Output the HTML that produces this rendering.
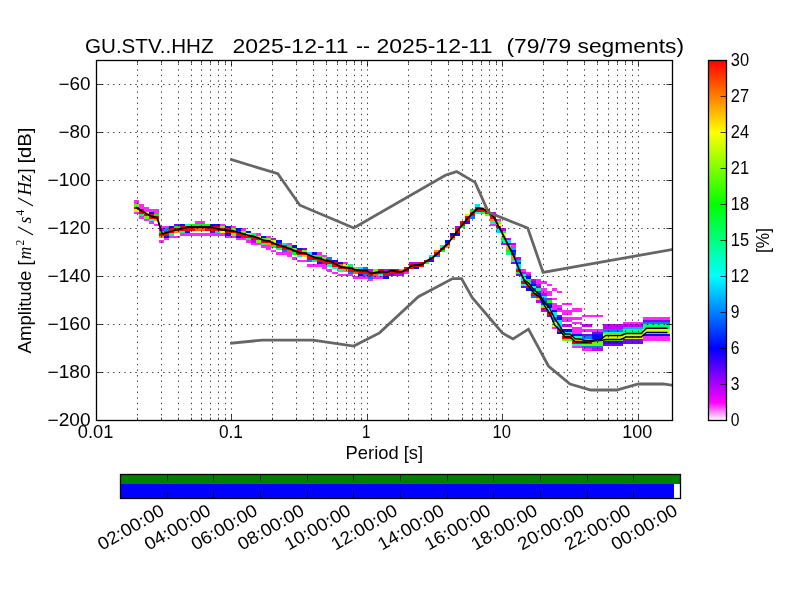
<!DOCTYPE html>
<html><head><meta charset="utf-8"><title>PPSD GU.STV..HHZ</title>
<style>html,body{margin:0;padding:0;background:#fff}svg{display:block;will-change:transform}text{font-family:"Liberation Sans", sans-serif;fill:#000}</style></head>
<body>
<svg width="800" height="600" viewBox="0 0 800 600">
<defs><linearGradient id="cb" x1="0" y1="1" x2="0" y2="0"><stop offset="0" stop-color="#fff"/><stop offset="0.05" stop-color="#f0f"/><stop offset="0.2" stop-color="#00f"/><stop offset="0.4" stop-color="#0ff"/><stop offset="0.6" stop-color="#0f0"/><stop offset="0.8" stop-color="#ff0"/><stop offset="1" stop-color="#f00"/></linearGradient><clipPath id="ax"><rect x="96" y="60" width="577" height="361"/></clipPath></defs>
<rect width="800" height="600" fill="#fff"/>
<g shape-rendering="crispEdges">
<rect x="134" y="212" width="5" height="2" fill="#ff27ff"/><rect x="134" y="209" width="5" height="3" fill="#ccff00"/><rect x="134" y="207" width="5" height="2" fill="#ff0000"/><rect x="134" y="204" width="5" height="3" fill="#62ff00"/><rect x="134" y="202" width="5" height="2" fill="#ff27ff"/><rect x="134" y="200" width="5" height="2" fill="#ff27ff"/><rect x="139" y="216" width="5" height="3" fill="#ff27ff"/><rect x="139" y="214" width="5" height="2" fill="#00ff77"/><rect x="139" y="212" width="5" height="2" fill="#ff0000"/><rect x="139" y="209" width="5" height="3" fill="#ff0000"/><rect x="139" y="207" width="10" height="2" fill="#ff27ff"/><rect x="139" y="204" width="5" height="3" fill="#ff27ff"/><rect x="144" y="219" width="5" height="2" fill="#ff27ff"/><rect x="144" y="216" width="5" height="3" fill="#62ff00"/><rect x="144" y="214" width="10" height="2" fill="#ff0000"/><rect x="144" y="212" width="5" height="2" fill="#fffb00"/><rect x="144" y="209" width="15" height="3" fill="#ff27ff"/><rect x="149" y="221" width="5" height="3" fill="#ff27ff"/><rect x="149" y="219" width="5" height="2" fill="#00ffe1"/><rect x="149" y="216" width="10" height="3" fill="#ff0000"/><rect x="149" y="212" width="5" height="2" fill="#000eff"/><rect x="154" y="224" width="5" height="2" fill="#ff27ff"/><rect x="154" y="219" width="5" height="2" fill="#ff9000"/><rect x="154" y="214" width="5" height="2" fill="#00ff0d"/><rect x="154" y="212" width="5" height="2" fill="#ff27ff"/><rect x="159" y="240" width="5" height="3" fill="#ff27ff"/><rect x="159" y="236" width="5" height="2" fill="#ff9000"/><rect x="159" y="233" width="10" height="3" fill="#ff0000"/><rect x="159" y="231" width="5" height="2" fill="#00ff0d"/><rect x="159" y="228" width="5" height="3" fill="#c500ff"/><rect x="159" y="226" width="10" height="2" fill="#ff27ff"/><rect x="164" y="238" width="5" height="2" fill="#ff27ff"/><rect x="164" y="236" width="5" height="2" fill="#000eff"/><rect x="164" y="231" width="10" height="2" fill="#ff0000"/><rect x="164" y="228" width="5" height="3" fill="#007aff"/><rect x="169" y="236" width="11" height="2" fill="#ff27ff"/><rect x="169" y="233" width="5" height="3" fill="#00ff77"/><rect x="169" y="228" width="26" height="3" fill="#ff0000"/><rect x="169" y="226" width="5" height="2" fill="#000eff"/><rect x="174" y="231" width="6" height="2" fill="#ff9000"/><rect x="174" y="226" width="6" height="2" fill="#00ff0d"/><rect x="174" y="224" width="6" height="2" fill="#7d00ff"/><rect x="180" y="233" width="45" height="3" fill="#ff27ff"/><rect x="180" y="231" width="5" height="2" fill="#00ff77"/><rect x="180" y="226" width="40" height="2" fill="#ff0000"/><rect x="180" y="224" width="5" height="2" fill="#000eff"/><rect x="185" y="231" width="5" height="2" fill="#000eff"/><rect x="185" y="224" width="5" height="2" fill="#00ffae"/><rect x="190" y="224" width="20" height="2" fill="#00ff0d"/><rect x="195" y="228" width="10" height="3" fill="#ff5e00"/><rect x="195" y="221" width="10" height="3" fill="#ff27ff"/><rect x="205" y="228" width="26" height="3" fill="#ff0000"/><rect x="210" y="231" width="5" height="2" fill="#7d00ff"/><rect x="210" y="224" width="10" height="2" fill="#000eff"/><rect x="215" y="231" width="5" height="2" fill="#00e5ff"/><rect x="220" y="231" width="5" height="2" fill="#fffb00"/><rect x="220" y="226" width="5" height="2" fill="#62ff00"/><rect x="220" y="224" width="5" height="2" fill="#ff27ff"/><rect x="225" y="236" width="11" height="2" fill="#ff27ff"/><rect x="225" y="233" width="6" height="3" fill="#000eff"/><rect x="225" y="231" width="16" height="2" fill="#ff0000"/><rect x="225" y="226" width="6" height="2" fill="#000eff"/><rect x="231" y="233" width="5" height="3" fill="#62ff00"/><rect x="231" y="228" width="5" height="3" fill="#62ff00"/><rect x="231" y="226" width="5" height="2" fill="#ff27ff"/><rect x="236" y="238" width="10" height="2" fill="#ff27ff"/><rect x="236" y="236" width="5" height="2" fill="#000eff"/><rect x="236" y="233" width="10" height="3" fill="#ff0000"/><rect x="236" y="228" width="5" height="3" fill="#000eff"/><rect x="241" y="236" width="15" height="2" fill="#ff0000"/><rect x="241" y="231" width="5" height="2" fill="#62ff00"/><rect x="241" y="228" width="5" height="3" fill="#ff27ff"/><rect x="246" y="240" width="5" height="3" fill="#ff27ff"/><rect x="246" y="238" width="5" height="2" fill="#00ff77"/><rect x="246" y="233" width="5" height="3" fill="#fffb00"/><rect x="246" y="231" width="5" height="2" fill="#000eff"/><rect x="251" y="243" width="10" height="2" fill="#ff27ff"/><rect x="251" y="240" width="5" height="3" fill="#c500ff"/><rect x="251" y="238" width="10" height="2" fill="#ff0000"/><rect x="251" y="233" width="5" height="3" fill="#00ff77"/><rect x="256" y="240" width="5" height="3" fill="#62ff00"/><rect x="256" y="236" width="5" height="2" fill="#ccff00"/><rect x="256" y="233" width="5" height="3" fill="#ff27ff"/><rect x="261" y="245" width="10" height="3" fill="#ff27ff"/><rect x="261" y="243" width="5" height="2" fill="#00ff77"/><rect x="261" y="240" width="10" height="3" fill="#ff0000"/><rect x="261" y="238" width="10" height="2" fill="#62ff00"/><rect x="261" y="236" width="5" height="2" fill="#000eff"/><rect x="266" y="248" width="5" height="2" fill="#ff27ff"/><rect x="266" y="243" width="5" height="2" fill="#ff9000"/><rect x="266" y="236" width="5" height="2" fill="#ff27ff"/><rect x="271" y="250" width="5" height="2" fill="#ff27ff"/><rect x="271" y="245" width="5" height="3" fill="#00ff0d"/><rect x="271" y="243" width="11" height="2" fill="#ff0000"/><rect x="271" y="240" width="5" height="3" fill="#ccff00"/><rect x="271" y="238" width="5" height="2" fill="#c500ff"/><rect x="276" y="252" width="16" height="3" fill="#ff27ff"/><rect x="276" y="248" width="6" height="2" fill="#00ff77"/><rect x="276" y="245" width="11" height="3" fill="#ff0000"/><rect x="276" y="240" width="6" height="3" fill="#000eff"/><rect x="282" y="250" width="5" height="2" fill="#007aff"/><rect x="282" y="248" width="10" height="2" fill="#ff0000"/><rect x="282" y="243" width="5" height="2" fill="#00e5ff"/><rect x="287" y="255" width="5" height="2" fill="#ff27ff"/><rect x="287" y="250" width="5" height="2" fill="#ff5e00"/><rect x="287" y="245" width="5" height="3" fill="#00ff0d"/><rect x="287" y="243" width="5" height="2" fill="#ff27ff"/><rect x="292" y="257" width="5" height="3" fill="#ff27ff"/><rect x="292" y="252" width="5" height="3" fill="#00ff0d"/><rect x="292" y="250" width="10" height="2" fill="#ff0000"/><rect x="292" y="248" width="5" height="2" fill="#62ff00"/><rect x="292" y="245" width="5" height="3" fill="#000eff"/><rect x="297" y="260" width="10" height="2" fill="#ff27ff"/><rect x="297" y="255" width="5" height="2" fill="#00e5ff"/><rect x="297" y="252" width="10" height="3" fill="#ff0000"/><rect x="297" y="248" width="5" height="2" fill="#000eff"/><rect x="302" y="255" width="5" height="2" fill="#ffc800"/><rect x="302" y="250" width="5" height="2" fill="#62ff00"/><rect x="302" y="248" width="5" height="2" fill="#7d00ff"/><rect x="307" y="264" width="20" height="3" fill="#ff27ff"/><rect x="307" y="260" width="5" height="2" fill="#007aff"/><rect x="307" y="257" width="15" height="3" fill="#ff0000"/><rect x="307" y="255" width="5" height="2" fill="#ff0000"/><rect x="307" y="252" width="5" height="3" fill="#00e5ff"/><rect x="312" y="260" width="5" height="2" fill="#00ff77"/><rect x="312" y="255" width="5" height="2" fill="#62ff00"/><rect x="312" y="252" width="5" height="3" fill="#000eff"/><rect x="317" y="262" width="5" height="2" fill="#3500ff"/><rect x="317" y="260" width="15" height="2" fill="#ff0000"/><rect x="317" y="255" width="5" height="2" fill="#00ff0d"/><rect x="317" y="252" width="5" height="3" fill="#ff27ff"/><rect x="322" y="267" width="5" height="2" fill="#ff27ff"/><rect x="322" y="262" width="16" height="2" fill="#ff0000"/><rect x="322" y="257" width="5" height="3" fill="#62ff00"/><rect x="322" y="255" width="5" height="2" fill="#ff27ff"/><rect x="327" y="269" width="5" height="3" fill="#ff27ff"/><rect x="327" y="264" width="5" height="3" fill="#00ffae"/><rect x="327" y="257" width="5" height="3" fill="#007aff"/><rect x="332" y="272" width="6" height="2" fill="#ff27ff"/><rect x="332" y="267" width="6" height="2" fill="#00ffe1"/><rect x="332" y="264" width="6" height="3" fill="#ff0000"/><rect x="332" y="260" width="6" height="2" fill="#000eff"/><rect x="338" y="274" width="15" height="2" fill="#ff27ff"/><rect x="338" y="269" width="5" height="3" fill="#00ffae"/><rect x="338" y="267" width="15" height="2" fill="#ff0000"/><rect x="338" y="264" width="5" height="3" fill="#ff5e00"/><rect x="338" y="262" width="5" height="2" fill="#000eff"/><rect x="343" y="269" width="5" height="3" fill="#ff9000"/><rect x="343" y="264" width="5" height="3" fill="#ccff00"/><rect x="343" y="262" width="5" height="2" fill="#ff27ff"/><rect x="348" y="272" width="5" height="2" fill="#007aff"/><rect x="348" y="269" width="20" height="3" fill="#ff0000"/><rect x="348" y="264" width="5" height="3" fill="#00ff77"/><rect x="353" y="276" width="15" height="3" fill="#ff27ff"/><rect x="353" y="272" width="5" height="2" fill="#ff5e00"/><rect x="353" y="267" width="5" height="2" fill="#62ff00"/><rect x="358" y="274" width="5" height="2" fill="#000eff"/><rect x="358" y="272" width="46" height="2" fill="#ff0000"/><rect x="358" y="267" width="5" height="2" fill="#00e5ff"/><rect x="363" y="274" width="5" height="2" fill="#007aff"/><rect x="363" y="267" width="5" height="2" fill="#007aff"/><rect x="368" y="279" width="5" height="2" fill="#ff27ff"/><rect x="368" y="276" width="5" height="3" fill="#007aff"/><rect x="368" y="274" width="5" height="2" fill="#ff0000"/><rect x="368" y="269" width="5" height="3" fill="#c500ff"/><rect x="373" y="276" width="10" height="3" fill="#ff27ff"/><rect x="373" y="274" width="5" height="2" fill="#ff5e00"/><rect x="373" y="269" width="5" height="3" fill="#62ff00"/><rect x="378" y="274" width="5" height="2" fill="#00ffe1"/><rect x="378" y="269" width="5" height="3" fill="#ff0000"/><rect x="383" y="276" width="6" height="3" fill="#000eff"/><rect x="383" y="274" width="6" height="2" fill="#ff0000"/><rect x="383" y="269" width="6" height="3" fill="#c500ff"/><rect x="389" y="274" width="5" height="2" fill="#7d00ff"/><rect x="389" y="269" width="10" height="3" fill="#ff0000"/><rect x="394" y="274" width="10" height="2" fill="#c500ff"/><rect x="399" y="269" width="5" height="3" fill="#ff9000"/><rect x="404" y="272" width="5" height="2" fill="#ff27ff"/><rect x="404" y="269" width="5" height="3" fill="#ff0000"/><rect x="404" y="267" width="10" height="2" fill="#ff0000"/><rect x="409" y="264" width="15" height="3" fill="#ff0000"/><rect x="409" y="262" width="10" height="2" fill="#c500ff"/><rect x="414" y="267" width="5" height="2" fill="#000eff"/><rect x="419" y="262" width="5" height="2" fill="#ff0000"/><rect x="424" y="262" width="5" height="2" fill="#00ff0d"/><rect x="424" y="260" width="5" height="2" fill="#ff0000"/><rect x="429" y="260" width="5" height="2" fill="#3500ff"/><rect x="429" y="257" width="5" height="3" fill="#ff0000"/><rect x="429" y="255" width="5" height="2" fill="#00ffae"/><rect x="434" y="255" width="6" height="2" fill="#007aff"/><rect x="434" y="252" width="6" height="3" fill="#ff0000"/><rect x="434" y="250" width="6" height="2" fill="#ff9000"/><rect x="440" y="250" width="5" height="2" fill="#00ff0d"/><rect x="440" y="248" width="5" height="2" fill="#ff0000"/><rect x="440" y="245" width="5" height="3" fill="#00ff77"/><rect x="445" y="245" width="5" height="3" fill="#ff9000"/><rect x="445" y="243" width="5" height="2" fill="#ff0000"/><rect x="445" y="240" width="5" height="3" fill="#000eff"/><rect x="450" y="238" width="5" height="2" fill="#ff9000"/><rect x="450" y="236" width="5" height="2" fill="#ff0000"/><rect x="450" y="233" width="10" height="3" fill="#000eff"/><rect x="455" y="231" width="5" height="2" fill="#ff0000"/><rect x="455" y="228" width="5" height="3" fill="#ff0000"/><rect x="455" y="226" width="5" height="2" fill="#c500ff"/><rect x="460" y="226" width="5" height="2" fill="#00ff0d"/><rect x="460" y="224" width="5" height="2" fill="#ff0000"/><rect x="460" y="221" width="5" height="3" fill="#ff0000"/><rect x="465" y="221" width="5" height="3" fill="#3500ff"/><rect x="465" y="219" width="5" height="2" fill="#ff0000"/><rect x="465" y="216" width="5" height="3" fill="#ff0000"/><rect x="465" y="214" width="5" height="2" fill="#ccff00"/><rect x="470" y="216" width="5" height="3" fill="#007aff"/><rect x="470" y="214" width="5" height="2" fill="#ff0000"/><rect x="470" y="212" width="5" height="2" fill="#ff0000"/><rect x="470" y="209" width="5" height="3" fill="#00ff0d"/><rect x="475" y="212" width="5" height="2" fill="#00ffe1"/><rect x="475" y="209" width="15" height="3" fill="#ff0000"/><rect x="475" y="207" width="5" height="2" fill="#ff0000"/><rect x="475" y="204" width="5" height="3" fill="#00e5ff"/><rect x="480" y="212" width="5" height="2" fill="#00ff77"/><rect x="480" y="207" width="5" height="2" fill="#ffc800"/><rect x="485" y="214" width="5" height="2" fill="#62ff00"/><rect x="485" y="212" width="5" height="2" fill="#ff0000"/><rect x="490" y="224" width="6" height="2" fill="#ff27ff"/><rect x="490" y="221" width="6" height="3" fill="#00ffae"/><rect x="490" y="219" width="6" height="2" fill="#ff9000"/><rect x="490" y="216" width="6" height="3" fill="#ff0000"/><rect x="490" y="214" width="6" height="2" fill="#ff0000"/><rect x="490" y="212" width="6" height="2" fill="#c500ff"/><rect x="496" y="231" width="5" height="2" fill="#00e5ff"/><rect x="496" y="228" width="5" height="3" fill="#00e5ff"/><rect x="496" y="226" width="5" height="2" fill="#ff0000"/><rect x="496" y="224" width="5" height="2" fill="#fffb00"/><rect x="496" y="221" width="5" height="3" fill="#62ff00"/><rect x="496" y="219" width="5" height="2" fill="#ff27ff"/><rect x="501" y="243" width="5" height="2" fill="#c500ff"/><rect x="501" y="240" width="5" height="3" fill="#00ffae"/><rect x="501" y="238" width="5" height="2" fill="#00ff0d"/><rect x="501" y="236" width="5" height="2" fill="#62ff00"/><rect x="501" y="233" width="5" height="3" fill="#fffb00"/><rect x="501" y="231" width="5" height="2" fill="#00ff0d"/><rect x="501" y="228" width="5" height="3" fill="#c500ff"/><rect x="506" y="252" width="5" height="3" fill="#00ff77"/><rect x="506" y="250" width="5" height="2" fill="#00ff0d"/><rect x="506" y="248" width="5" height="2" fill="#ff9000"/><rect x="506" y="245" width="5" height="3" fill="#62ff00"/><rect x="506" y="243" width="5" height="2" fill="#7d00ff"/><rect x="506" y="240" width="5" height="3" fill="#00e5ff"/><rect x="506" y="238" width="5" height="2" fill="#c500ff"/><rect x="511" y="262" width="5" height="2" fill="#7d00ff"/><rect x="511" y="260" width="5" height="2" fill="#00ffae"/><rect x="511" y="257" width="5" height="3" fill="#ff9000"/><rect x="511" y="255" width="5" height="2" fill="#ff9000"/><rect x="511" y="252" width="5" height="3" fill="#0044ff"/><rect x="511" y="250" width="5" height="2" fill="#3500ff"/><rect x="511" y="248" width="5" height="2" fill="#00aeff"/><rect x="511" y="245" width="5" height="3" fill="#ff27ff"/><rect x="511" y="243" width="5" height="2" fill="#c500ff"/><rect x="516" y="274" width="5" height="2" fill="#7d00ff"/><rect x="516" y="272" width="5" height="2" fill="#00ff0d"/><rect x="516" y="269" width="5" height="3" fill="#ff0000"/><rect x="516" y="267" width="5" height="2" fill="#00e5ff"/><rect x="516" y="264" width="5" height="3" fill="#00e5ff"/><rect x="516" y="262" width="5" height="2" fill="#0044ff"/><rect x="516" y="260" width="5" height="2" fill="#00aeff"/><rect x="516" y="257" width="5" height="3" fill="#c500ff"/><rect x="521" y="286" width="5" height="2" fill="#7d00ff"/><rect x="521" y="284" width="5" height="2" fill="#00ffae"/><rect x="521" y="281" width="5" height="3" fill="#ff0000"/><rect x="521" y="279" width="5" height="2" fill="#00e5ff"/><rect x="521" y="276" width="5" height="3" fill="#00ffe1"/><rect x="521" y="274" width="5" height="2" fill="#00ffe1"/><rect x="521" y="272" width="5" height="2" fill="#c500ff"/><rect x="521" y="269" width="5" height="3" fill="#ff27ff"/><rect x="526" y="288" width="5" height="3" fill="#000eff"/><rect x="526" y="286" width="5" height="2" fill="#ff0000"/><rect x="526" y="284" width="5" height="2" fill="#ff9000"/><rect x="526" y="281" width="5" height="3" fill="#00e5ff"/><rect x="526" y="279" width="5" height="2" fill="#00ff0d"/><rect x="526" y="276" width="5" height="3" fill="#000eff"/><rect x="526" y="274" width="5" height="2" fill="#c500ff"/><rect x="526" y="272" width="5" height="2" fill="#ff27ff"/><rect x="531" y="296" width="5" height="2" fill="#007aff"/><rect x="531" y="293" width="5" height="3" fill="#ff0000"/><rect x="531" y="291" width="5" height="2" fill="#00ff0d"/><rect x="531" y="288" width="5" height="3" fill="#0044ff"/><rect x="531" y="286" width="5" height="2" fill="#00ffae"/><rect x="531" y="284" width="5" height="2" fill="#000eff"/><rect x="531" y="281" width="5" height="3" fill="#7d00ff"/><rect x="531" y="279" width="5" height="2" fill="#c500ff"/><rect x="536" y="300" width="5" height="3" fill="#c500ff"/><rect x="536" y="298" width="5" height="2" fill="#ffc800"/><rect x="536" y="296" width="5" height="2" fill="#ff0000"/><rect x="536" y="293" width="5" height="3" fill="#0044ff"/><rect x="536" y="291" width="5" height="2" fill="#0044ff"/><rect x="536" y="288" width="5" height="3" fill="#00ff77"/><rect x="536" y="286" width="5" height="2" fill="#7d00ff"/><rect x="536" y="284" width="5" height="2" fill="#c500ff"/><rect x="536" y="281" width="11" height="3" fill="#ff27ff"/><rect x="536" y="279" width="5" height="2" fill="#ff27ff"/><rect x="541" y="310" width="6" height="2" fill="#c500ff"/><rect x="541" y="308" width="6" height="2" fill="#ff0000"/><rect x="541" y="305" width="6" height="3" fill="#62ff00"/><rect x="541" y="303" width="6" height="2" fill="#0044ff"/><rect x="541" y="300" width="6" height="3" fill="#0044ff"/><rect x="541" y="298" width="6" height="2" fill="#007aff"/><rect x="541" y="296" width="6" height="2" fill="#00e5ff"/><rect x="541" y="293" width="6" height="3" fill="#c500ff"/><rect x="541" y="291" width="11" height="2" fill="#ff27ff"/><rect x="541" y="288" width="6" height="3" fill="#ff27ff"/><rect x="547" y="315" width="5" height="2" fill="#7d00ff"/><rect x="547" y="312" width="5" height="3" fill="#ff0000"/><rect x="547" y="310" width="5" height="2" fill="#00ffae"/><rect x="547" y="308" width="5" height="2" fill="#00e5ff"/><rect x="547" y="305" width="5" height="3" fill="#000eff"/><rect x="547" y="303" width="5" height="2" fill="#000eff"/><rect x="547" y="300" width="5" height="3" fill="#00ff0d"/><rect x="547" y="298" width="5" height="2" fill="#c500ff"/><rect x="547" y="293" width="5" height="3" fill="#ff27ff"/><rect x="547" y="284" width="5" height="2" fill="#ff27ff"/><rect x="552" y="327" width="5" height="2" fill="#ff27ff"/><rect x="552" y="324" width="5" height="3" fill="#ccff00"/><rect x="552" y="322" width="5" height="2" fill="#ccff00"/><rect x="552" y="320" width="5" height="2" fill="#007aff"/><rect x="552" y="317" width="5" height="3" fill="#007aff"/><rect x="552" y="315" width="5" height="2" fill="#00e5ff"/><rect x="552" y="312" width="5" height="3" fill="#00e5ff"/><rect x="552" y="310" width="5" height="2" fill="#000eff"/><rect x="552" y="308" width="5" height="2" fill="#ff27ff"/><rect x="552" y="305" width="10" height="3" fill="#ff27ff"/><rect x="552" y="303" width="5" height="2" fill="#ff27ff"/><rect x="552" y="298" width="5" height="2" fill="#ff27ff"/><rect x="552" y="288" width="5" height="3" fill="#ff27ff"/><rect x="557" y="332" width="5" height="2" fill="#000eff"/><rect x="557" y="329" width="5" height="3" fill="#ff0000"/><rect x="557" y="327" width="5" height="2" fill="#00aeff"/><rect x="557" y="324" width="5" height="3" fill="#00e5ff"/><rect x="557" y="322" width="5" height="2" fill="#00e5ff"/><rect x="557" y="320" width="5" height="2" fill="#00e5ff"/><rect x="557" y="317" width="5" height="3" fill="#000eff"/><rect x="557" y="315" width="5" height="2" fill="#7d00ff"/><rect x="557" y="310" width="25" height="2" fill="#ff27ff"/><rect x="557" y="308" width="5" height="2" fill="#c500ff"/><rect x="557" y="291" width="5" height="2" fill="#ff27ff"/><rect x="562" y="339" width="10" height="2" fill="#62ff00"/><rect x="562" y="336" width="10" height="3" fill="#ff0000"/><rect x="562" y="334" width="10" height="2" fill="#00ff0d"/><rect x="562" y="332" width="10" height="2" fill="#00e5ff"/><rect x="562" y="329" width="10" height="3" fill="#000eff"/><rect x="562" y="324" width="10" height="3" fill="#c500ff"/><rect x="562" y="320" width="10" height="2" fill="#ff27ff"/><rect x="562" y="317" width="20" height="3" fill="#ff27ff"/><rect x="562" y="312" width="10" height="3" fill="#ff27ff"/><rect x="562" y="303" width="10" height="2" fill="#ff27ff"/><rect x="572" y="346" width="10" height="2" fill="#ff27ff"/><rect x="572" y="344" width="10" height="2" fill="#00ffae"/><rect x="572" y="341" width="20" height="3" fill="#ff0000"/><rect x="572" y="339" width="10" height="2" fill="#ff9000"/><rect x="572" y="336" width="10" height="3" fill="#00ffae"/><rect x="572" y="334" width="10" height="2" fill="#000eff"/><rect x="572" y="332" width="10" height="2" fill="#ff27ff"/><rect x="572" y="329" width="31" height="3" fill="#ff27ff"/><rect x="572" y="327" width="10" height="2" fill="#ff27ff"/><rect x="572" y="322" width="10" height="2" fill="#ff27ff"/><rect x="572" y="308" width="10" height="2" fill="#ff27ff"/><rect x="582" y="348" width="10" height="3" fill="#ff27ff"/><rect x="582" y="346" width="21" height="2" fill="#007aff"/><rect x="582" y="344" width="21" height="2" fill="#62ff00"/><rect x="582" y="339" width="21" height="2" fill="#00e5ff"/><rect x="582" y="336" width="10" height="3" fill="#007aff"/><rect x="582" y="334" width="10" height="2" fill="#7d00ff"/><rect x="582" y="324" width="10" height="3" fill="#c500ff"/><rect x="582" y="315" width="21" height="2" fill="#ff27ff"/><rect x="592" y="348" width="11" height="3" fill="#c500ff"/><rect x="592" y="341" width="11" height="3" fill="#62ff00"/><rect x="592" y="336" width="11" height="3" fill="#000eff"/><rect x="592" y="334" width="11" height="2" fill="#000eff"/><rect x="592" y="332" width="11" height="2" fill="#7d00ff"/><rect x="603" y="344" width="20" height="2" fill="#7d00ff"/><rect x="603" y="341" width="20" height="3" fill="#3500ff"/><rect x="603" y="339" width="20" height="2" fill="#62ff00"/><rect x="603" y="336" width="40" height="3" fill="#ccff00"/><rect x="603" y="334" width="40" height="2" fill="#ccff00"/><rect x="603" y="332" width="20" height="2" fill="#00ffae"/><rect x="603" y="329" width="20" height="3" fill="#007aff"/><rect x="603" y="327" width="20" height="2" fill="#c500ff"/><rect x="603" y="324" width="40" height="3" fill="#c500ff"/><rect x="623" y="341" width="20" height="3" fill="#7d00ff"/><rect x="623" y="339" width="20" height="2" fill="#7d00ff"/><rect x="623" y="332" width="20" height="2" fill="#00ff77"/><rect x="623" y="329" width="20" height="3" fill="#00ff77"/><rect x="623" y="327" width="20" height="2" fill="#00aeff"/><rect x="623" y="322" width="20" height="2" fill="#ff27ff"/><rect x="643" y="339" width="27" height="2" fill="#ff27ff"/><rect x="643" y="336" width="27" height="3" fill="#ff27ff"/><rect x="643" y="334" width="27" height="2" fill="#000eff"/><rect x="643" y="332" width="27" height="2" fill="#ccff00"/><rect x="643" y="329" width="27" height="3" fill="#ccff00"/><rect x="643" y="327" width="27" height="2" fill="#00ff77"/><rect x="643" y="324" width="27" height="3" fill="#00ff77"/><rect x="643" y="322" width="27" height="2" fill="#007aff"/><rect x="643" y="320" width="27" height="2" fill="#7d00ff"/><rect x="643" y="317" width="27" height="3" fill="#ff27ff"/>
</g>
<g stroke="#000" stroke-width="0.75" stroke-dasharray="1.39 4.17" fill="none">
<path d="M137.5 420.9V60.5"/><path d="M161.5 420.9V60.5"/><path d="M178.5 420.9V60.5"/><path d="M191.5 420.9V60.5"/><path d="M201.5 420.9V60.5"/><path d="M210.5 420.9V60.5"/><path d="M218.5 420.9V60.5"/><path d="M225.5 420.9V60.5"/><path d="M231.5 420.9V60.5"/><path d="M272.5 420.9V60.5"/><path d="M296.5 420.9V60.5"/><path d="M313.5 420.9V60.5"/><path d="M326.5 420.9V60.5"/><path d="M337.5 420.9V60.5"/><path d="M346.5 420.9V60.5"/><path d="M354.5 420.9V60.5"/><path d="M361.5 420.9V60.5"/><path d="M367.5 420.9V60.5"/><path d="M408.5 420.9V60.5"/><path d="M431.5 420.9V60.5"/><path d="M448.5 420.9V60.5"/><path d="M462.5 420.9V60.5"/><path d="M472.5 420.9V60.5"/><path d="M481.5 420.9V60.5"/><path d="M489.5 420.9V60.5"/><path d="M496.5 420.9V60.5"/><path d="M502.5 420.9V60.5"/><path d="M543.5 420.9V60.5"/><path d="M567.5 420.9V60.5"/><path d="M584.5 420.9V60.5"/><path d="M597.5 420.9V60.5"/><path d="M608.5 420.9V60.5"/><path d="M617.5 420.9V60.5"/><path d="M625.5 420.9V60.5"/><path d="M632.5 420.9V60.5"/><path d="M638.5 420.9V60.5"/><path d="M96.5 372.5H672.5"/><path d="M96.5 324.5H672.5"/><path d="M96.5 276.5H672.5"/><path d="M96.5 228.5H672.5"/><path d="M96.5 180.5H672.5"/><path d="M96.5 132.5H672.5"/><path d="M96.5 84.5H672.5"/>
</g>
<g clip-path="url(#ax)" fill="none" stroke-linejoin="round">
<polyline stroke="#000" stroke-linecap="square" stroke-width="1.8" points="136.77,207.80 141.87,211.00 146.96,214.00 152.06,216.50 157.16,217.70 162.25,234.00 167.35,232.50 172.45,231.00 177.54,229.50 182.64,228.50 187.73,227.20 192.83,227.00 197.93,227.00 203.02,227.00 208.12,227.00 213.22,227.50 218.31,229.00 223.41,230.00 228.51,230.50 233.60,231.00 238.70,232.50 243.80,234.00 248.89,235.50 253.99,236.50 259.08,238.20 264.18,240.50 269.28,241.20 274.37,243.50 279.47,245.50 284.57,247.00 289.66,248.70 294.76,250.80 299.86,252.80 304.95,253.20 310.05,255.50 315.14,257.50 320.24,258.50 325.34,260.50 330.43,261.20 335.53,264.00 340.63,266.80 345.72,267.50 350.82,268.00 355.92,270.00 361.01,270.50 366.11,270.50 371.20,273.50 376.30,272.50 381.40,271.50 386.49,272.50 391.59,270.50 396.69,271.50 401.78,271.80 406.88,269.50 411.98,265.50 417.07,265.00 422.17,264.50 427.26,260.50 432.36,258.00 437.46,253.50 442.55,248.50 447.65,244.00 452.75,237.00 457.84,230.50 462.94,224.00 468.04,218.00 473.13,212.50 478.23,208.00 483.32,209.00 488.42,212.00 493.52,216.50 498.61,226.30 503.71,236.20 508.81,246.40 513.90,256.00 519.00,269.30 524.10,279.80"/>
<polyline stroke="#000" stroke-linecap="square" stroke-width="1.4" points="524.10,279.80 529.19,283.60 534.29,290.30 539.39,294.00 544.48,302.50 549.58,308.00 554.67,318.50 559.77,326.00 564.87,334.00 569.96,334.00 575.06,338.80 580.16,339.00 585.25,340.60 590.35,340.60 595.45,339.70 600.54,339.60 605.64,335.50 610.73,335.50 615.83,335.50 620.93,335.50 626.02,333.50 631.12,333.50 636.22,333.50 641.31,333.50 646.41,328.30 651.51,328.30 656.60,328.30 661.70,328.30 666.79,328.30"/>
<polyline stroke="#000" stroke-linecap="square" stroke-width="1.4" points="524.10,280.90 529.19,287.00 534.29,293.40 539.39,296.80 544.48,305.50 549.58,313.50 554.67,325.00 559.77,330.00 564.87,337.00 569.96,337.00 575.06,341.80 580.16,342.10 585.25,342.30 590.35,341.90 595.45,340.90 600.54,340.60 605.64,339.50 610.73,339.50 615.83,339.50 620.93,339.50 626.02,337.00 631.12,337.00 636.22,337.00 641.31,337.00 646.41,332.50 651.51,332.50 656.60,332.50 661.70,332.50 666.79,332.50"/>
<polyline stroke="#666" stroke-width="2.78" stroke-linejoin="miter" stroke-linecap="square" points="231.44,159.60 277.82,173.77 299.86,205.20 353.75,228.00 445.40,175.19 456.64,171.59 475.14,182.40 488.45,212.39 527.71,228.01 543.09,272.39 712.24,242.39"/>
<polyline stroke="#666" stroke-width="2.78" stroke-linejoin="miter" stroke-linecap="square" points="231.44,343.20 262.65,340.08 312.98,340.07 353.75,346.08 379.53,332.87 418.37,296.75 452.67,278.64 461.54,278.63 472.27,297.60 502.32,333.00 513.04,338.99 528.47,329.11 548.42,366.01 569.99,383.99 590.79,390.00 616.77,390.00 638.34,384.00 663.15,383.97 707.62,389.97"/>
</g>
<g stroke="#000" stroke-width="0.75" fill="none">
<path d="M96.5 420.5v-6.20M96.5 60.5v6.20"/><path d="M137.5 420.5v-2.90M137.5 60.5v2.90"/><path d="M161.5 420.5v-2.90M161.5 60.5v2.90"/><path d="M178.5 420.5v-2.90M178.5 60.5v2.90"/><path d="M191.5 420.5v-2.90M191.5 60.5v2.90"/><path d="M201.5 420.5v-2.90M201.5 60.5v2.90"/><path d="M210.5 420.5v-2.90M210.5 60.5v2.90"/><path d="M218.5 420.5v-2.90M218.5 60.5v2.90"/><path d="M225.5 420.5v-2.90M225.5 60.5v2.90"/><path d="M231.5 420.5v-6.20M231.5 60.5v6.20"/><path d="M272.5 420.5v-2.90M272.5 60.5v2.90"/><path d="M296.5 420.5v-2.90M296.5 60.5v2.90"/><path d="M313.5 420.5v-2.90M313.5 60.5v2.90"/><path d="M326.5 420.5v-2.90M326.5 60.5v2.90"/><path d="M337.5 420.5v-2.90M337.5 60.5v2.90"/><path d="M346.5 420.5v-2.90M346.5 60.5v2.90"/><path d="M354.5 420.5v-2.90M354.5 60.5v2.90"/><path d="M361.5 420.5v-2.90M361.5 60.5v2.90"/><path d="M367.5 420.5v-6.20M367.5 60.5v6.20"/><path d="M408.5 420.5v-2.90M408.5 60.5v2.90"/><path d="M431.5 420.5v-2.90M431.5 60.5v2.90"/><path d="M448.5 420.5v-2.90M448.5 60.5v2.90"/><path d="M462.5 420.5v-2.90M462.5 60.5v2.90"/><path d="M472.5 420.5v-2.90M472.5 60.5v2.90"/><path d="M481.5 420.5v-2.90M481.5 60.5v2.90"/><path d="M489.5 420.5v-2.90M489.5 60.5v2.90"/><path d="M496.5 420.5v-2.90M496.5 60.5v2.90"/><path d="M502.5 420.5v-6.20M502.5 60.5v6.20"/><path d="M543.5 420.5v-2.90M543.5 60.5v2.90"/><path d="M567.5 420.5v-2.90M567.5 60.5v2.90"/><path d="M584.5 420.5v-2.90M584.5 60.5v2.90"/><path d="M597.5 420.5v-2.90M597.5 60.5v2.90"/><path d="M608.5 420.5v-2.90M608.5 60.5v2.90"/><path d="M617.5 420.5v-2.90M617.5 60.5v2.90"/><path d="M625.5 420.5v-2.90M625.5 60.5v2.90"/><path d="M632.5 420.5v-2.90M632.5 60.5v2.90"/><path d="M638.5 420.5v-6.20M638.5 60.5v6.20"/><path d="M96.5 420.5h6.2M672.5 420.5h-6.2"/><path d="M96.5 372.5h6.2M672.5 372.5h-6.2"/><path d="M96.5 324.5h6.2M672.5 324.5h-6.2"/><path d="M96.5 276.5h6.2M672.5 276.5h-6.2"/><path d="M96.5 228.5h6.2M672.5 228.5h-6.2"/><path d="M96.5 180.5h6.2M672.5 180.5h-6.2"/><path d="M96.5 132.5h6.2M672.5 132.5h-6.2"/><path d="M96.5 84.5h6.2M672.5 84.5h-6.2"/>
</g>
<rect x="96.5" y="60.5" width="576" height="360" fill="none" stroke="#000" stroke-width="1.3"/>
<rect x="708.5" y="60.5" width="18" height="360" fill="url(#cb)" stroke="#000" stroke-width="1.3"/>
<g stroke="#000" stroke-width="0.75"><path d="M726.5 420.5h-5.9"/><path d="M726.5 384.5h-5.9"/><path d="M726.5 348.5h-5.9"/><path d="M726.5 312.5h-5.9"/><path d="M726.5 276.5h-5.9"/><path d="M726.5 240.5h-5.9"/><path d="M726.5 204.5h-5.9"/><path d="M726.5 168.5h-5.9"/><path d="M726.5 132.5h-5.9"/><path d="M726.5 96.5h-5.9"/><path d="M726.5 60.5h-5.9"/></g>
<g shape-rendering="crispEdges"><rect x="120" y="474" width="561" height="10" fill="#008000"/><rect x="120" y="484" width="554" height="15" fill="#0000ff"/></g>
<g stroke="#000" stroke-width="0.75"><path d="M167.5 498.5v-6.1M167.5 474.5v6.1"/><path d="M213.5 498.5v-6.1M213.5 474.5v6.1"/><path d="M260.5 498.5v-6.1M260.5 474.5v6.1"/><path d="M307.5 498.5v-6.1M307.5 474.5v6.1"/><path d="M353.5 498.5v-6.1M353.5 474.5v6.1"/><path d="M400.5 498.5v-6.1M400.5 474.5v6.1"/><path d="M447.5 498.5v-6.1M447.5 474.5v6.1"/><path d="M493.5 498.5v-6.1M493.5 474.5v6.1"/><path d="M540.5 498.5v-6.1M540.5 474.5v6.1"/><path d="M587.5 498.5v-6.1M587.5 474.5v6.1"/><path d="M633.5 498.5v-6.1M633.5 474.5v6.1"/><path d="M680.5 498.5v-6.1M680.5 474.5v6.1"/></g>
<rect x="120.5" y="474.5" width="560" height="24" fill="none" stroke="#000" stroke-width="1.3"/>
<text x="85.0" y="52.7" font-size="21.00" text-anchor="start" textLength="128.5" lengthAdjust="spacingAndGlyphs">GU.STV..HHZ</text>
<text x="232.5" y="52.7" font-size="21.00" text-anchor="start" textLength="116.0" lengthAdjust="spacingAndGlyphs">2025-12-11</text>
<text x="356.0" y="52.7" font-size="21.00" text-anchor="start" textLength="14.0" lengthAdjust="spacingAndGlyphs">--</text>
<text x="376.5" y="52.7" font-size="21.00" text-anchor="start" textLength="116.0" lengthAdjust="spacingAndGlyphs">2025-12-11</text>
<text x="506.5" y="52.7" font-size="21.00" text-anchor="start" textLength="177.5" lengthAdjust="spacingAndGlyphs">(79/79 segments)</text>
<text x="47.6" y="426.3" font-size="17.80" text-anchor="start" textLength="43.0" lengthAdjust="spacingAndGlyphs">−200</text>
<text x="47.6" y="378.3" font-size="17.80" text-anchor="start" textLength="43.0" lengthAdjust="spacingAndGlyphs">−180</text>
<text x="47.6" y="330.3" font-size="17.80" text-anchor="start" textLength="43.0" lengthAdjust="spacingAndGlyphs">−160</text>
<text x="47.6" y="282.3" font-size="17.80" text-anchor="start" textLength="43.0" lengthAdjust="spacingAndGlyphs">−140</text>
<text x="47.6" y="234.3" font-size="17.80" text-anchor="start" textLength="43.0" lengthAdjust="spacingAndGlyphs">−120</text>
<text x="47.6" y="186.3" font-size="17.80" text-anchor="start" textLength="43.0" lengthAdjust="spacingAndGlyphs">−100</text>
<text x="58.6" y="138.3" font-size="17.80" text-anchor="start" textLength="32.0" lengthAdjust="spacingAndGlyphs">−80</text>
<text x="58.6" y="90.3" font-size="17.80" text-anchor="start" textLength="32.0" lengthAdjust="spacingAndGlyphs">−60</text>
<text x="77.8" y="438.0" font-size="17.80" text-anchor="start" textLength="35.5" lengthAdjust="spacingAndGlyphs">0.01</text>
<text x="218.9" y="438.0" font-size="17.80" text-anchor="start" textLength="24.0" lengthAdjust="spacingAndGlyphs">0.1</text>
<text x="362.1" y="438.0" font-size="17.80" text-anchor="start" textLength="8.5" lengthAdjust="spacingAndGlyphs">1</text>
<text x="492.6" y="438.0" font-size="17.80" text-anchor="start" textLength="18.5" lengthAdjust="spacingAndGlyphs">10</text>
<text x="622.3" y="438.0" font-size="17.80" text-anchor="start" textLength="30.0" lengthAdjust="spacingAndGlyphs">100</text>
<text x="345.6" y="459.0" font-size="17.80" text-anchor="start" textLength="77.5" lengthAdjust="spacingAndGlyphs">Period [s]</text>
<text x="730.8" y="426.3" font-size="17.80" text-anchor="start" textLength="8.7" lengthAdjust="spacingAndGlyphs">0</text>
<text x="730.8" y="390.3" font-size="17.80" text-anchor="start" textLength="8.7" lengthAdjust="spacingAndGlyphs">3</text>
<text x="730.8" y="354.3" font-size="17.80" text-anchor="start" textLength="8.7" lengthAdjust="spacingAndGlyphs">6</text>
<text x="730.8" y="318.3" font-size="17.80" text-anchor="start" textLength="8.7" lengthAdjust="spacingAndGlyphs">9</text>
<text x="730.8" y="282.3" font-size="17.80" text-anchor="start" textLength="18.3" lengthAdjust="spacingAndGlyphs">12</text>
<text x="730.8" y="246.3" font-size="17.80" text-anchor="start" textLength="18.3" lengthAdjust="spacingAndGlyphs">15</text>
<text x="730.8" y="210.3" font-size="17.80" text-anchor="start" textLength="18.3" lengthAdjust="spacingAndGlyphs">18</text>
<text x="730.8" y="174.3" font-size="17.80" text-anchor="start" textLength="18.3" lengthAdjust="spacingAndGlyphs">21</text>
<text x="730.8" y="138.3" font-size="17.80" text-anchor="start" textLength="18.3" lengthAdjust="spacingAndGlyphs">24</text>
<text x="730.8" y="102.3" font-size="17.80" text-anchor="start" textLength="18.3" lengthAdjust="spacingAndGlyphs">27</text>
<text x="730.8" y="66.3" font-size="17.80" text-anchor="start" textLength="18.3" lengthAdjust="spacingAndGlyphs">30</text>
<text transform="translate(769,240.5) rotate(-90)" font-size="17.80" text-anchor="middle" textLength="25" lengthAdjust="spacingAndGlyphs">[%]</text>
<g transform="translate(30.5,353.5) rotate(-90)"><text x="0" y="0" font-size="17.80" textLength="83" lengthAdjust="spacingAndGlyphs">Amplitude</text><text x="88" y="0" font-size="17.80">[</text><text x="94" y="0" font-size="17.80" style='font-family:"Liberation Serif", serif' font-style="italic">m</text><text x="108" y="-7" font-size="11.5" style='font-family:"Liberation Serif", serif'>2</text><text x="119" y="2" font-size="23" style='font-family:"Liberation Serif", serif' font-style="italic">/</text><text x="130" y="0" font-size="17.80" style='font-family:"Liberation Serif", serif' font-style="italic">s</text><text x="138" y="-7" font-size="11.5" style='font-family:"Liberation Serif", serif'>4</text><text x="148" y="2" font-size="23" style='font-family:"Liberation Serif", serif' font-style="italic">/</text><text x="158" y="0" font-size="17.80" style='font-family:"Liberation Serif", serif' font-style="italic" textLength="21" lengthAdjust="spacingAndGlyphs">Hz</text><text x="180" y="0" font-size="17.80">]</text><text x="190" y="0" font-size="17.80" textLength="36" lengthAdjust="spacingAndGlyphs">[dB]</text></g>
<g opacity="0.999"><text transform="translate(102.8,555.0) rotate(-30)" x="1.5" y="-4.0" font-size="17.80" textLength="73.3" lengthAdjust="spacingAndGlyphs">02:00:00</text>
<text transform="translate(149.4,555.0) rotate(-30)" x="1.5" y="-4.0" font-size="17.80" textLength="73.3" lengthAdjust="spacingAndGlyphs">04:00:00</text>
<text transform="translate(196.1,555.0) rotate(-30)" x="1.5" y="-4.0" font-size="17.80" textLength="73.3" lengthAdjust="spacingAndGlyphs">06:00:00</text>
<text transform="translate(242.8,555.0) rotate(-30)" x="1.5" y="-4.0" font-size="17.80" textLength="73.3" lengthAdjust="spacingAndGlyphs">08:00:00</text>
<text transform="translate(289.4,555.0) rotate(-30)" x="1.5" y="-4.0" font-size="17.80" textLength="73.3" lengthAdjust="spacingAndGlyphs">10:00:00</text>
<text transform="translate(336.1,555.0) rotate(-30)" x="1.5" y="-4.0" font-size="17.80" textLength="73.3" lengthAdjust="spacingAndGlyphs">12:00:00</text>
<text transform="translate(382.8,555.0) rotate(-30)" x="1.5" y="-4.0" font-size="17.80" textLength="73.3" lengthAdjust="spacingAndGlyphs">14:00:00</text>
<text transform="translate(429.4,555.0) rotate(-30)" x="1.5" y="-4.0" font-size="17.80" textLength="73.3" lengthAdjust="spacingAndGlyphs">16:00:00</text>
<text transform="translate(476.1,555.0) rotate(-30)" x="1.5" y="-4.0" font-size="17.80" textLength="73.3" lengthAdjust="spacingAndGlyphs">18:00:00</text>
<text transform="translate(522.8,555.0) rotate(-30)" x="1.5" y="-4.0" font-size="17.80" textLength="73.3" lengthAdjust="spacingAndGlyphs">20:00:00</text>
<text transform="translate(569.4,555.0) rotate(-30)" x="1.5" y="-4.0" font-size="17.80" textLength="73.3" lengthAdjust="spacingAndGlyphs">22:00:00</text>
<text transform="translate(616.1,555.0) rotate(-30)" x="1.5" y="-4.0" font-size="17.80" textLength="73.3" lengthAdjust="spacingAndGlyphs">00:00:00</text>
</g>
</svg>
</body></html>
